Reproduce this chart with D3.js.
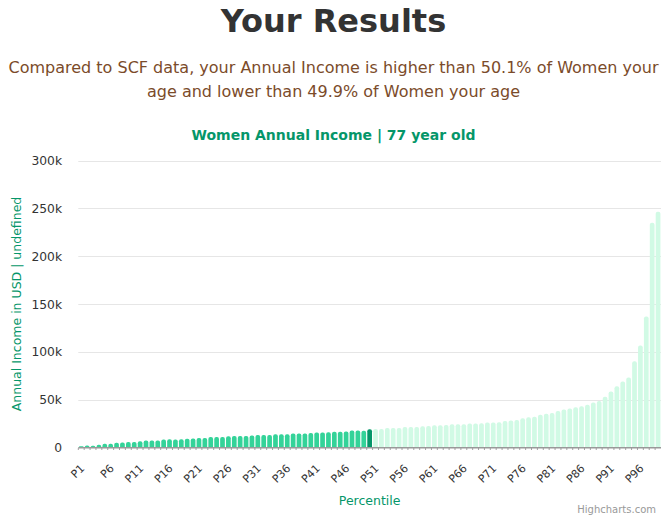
<!DOCTYPE html>
<html>
<head>
<meta charset="utf-8">
<script src="https://cdn.jsdelivr.net/npm/d3@7"></script>
<style>
  body { margin: 0; background: #fff; }
  svg { display: block; font-family: "DejaVu Sans", sans-serif; }
</style>
</head>
<body>
<div id="container"></div>
<script>
var w = 667;
var h = 519;

// percentile labels P1..P99
var percentiles = ["P1","P2","P3","P4","P5","P6","P7","P8","P9","P10",
  "P11","P12","P13","P14","P15","P16","P17","P18","P19","P20",
  "P21","P22","P23","P24","P25","P26","P27","P28","P29","P30",
  "P31","P32","P33","P34","P35","P36","P37","P38","P39","P40",
  "P41","P42","P43","P44","P45","P46","P47","P48","P49","P50",
  "P51","P52","P53","P54","P55","P56","P57","P58","P59","P60",
  "P61","P62","P63","P64","P65","P66","P67","P68","P69","P70",
  "P71","P72","P73","P74","P75","P76","P77","P78","P79","P80",
  "P81","P82","P83","P84","P85","P86","P87","P88","P89","P90",
  "P91","P92","P93","P94","P95","P96","P97","P98","P99"];

// annual income per percentile (USD)
var income = [1000,2000,1700,2800,3800,3800,4800,4900,5600,5600,
  6400,7200,7200,7200,8200,8300,8200,8400,9000,9200,
  9700,9800,10800,10700,10800,11600,11900,11800,11700,12300,
  12900,12900,12800,13600,13700,13600,14400,14500,14400,15000,
  15600,15500,15700,16400,16300,16500,17500,17600,17400,19000,
  19200,19200,20200,20300,20300,21200,21300,21300,22000,22400,
  23000,23200,23300,24000,24000,24200,25000,25000,25200,26000,
  26000,26300,27500,28000,28600,30400,31400,32000,34000,35000,
  36000,38000,39500,40500,42000,43000,44500,47000,48500,53000,
  58500,64000,69000,73000,90000,106500,137000,235000,246500];

var userIndex = 49; // P50 bucket
var yTicks = [0, 50000, 100000, 150000, 200000, 250000, 300000];
var xTickLabels = percentiles.filter(function(d, i) { return i % 5 === 0; });

var titleText = "Your Results";
var subtitleLines = [
  "Compared to SCF data, your Annual Income is higher than 50.1% of Women your",
  "age and lower than 49.9% of Women your age"
];
var chartTitle = "Women Annual Income | 77 year old";
var yAxisTitle = "Annual Income in USD | undefined";
var xAxisTitle = "Percentile";

var plotL = 78.3, plotR = 661, plotT = 160.7, plotB = 447.3;

var svg = d3.select("div#container")
  .append("svg")
  .attr("width", w)
  .attr("height", h)
  .attr("viewBox", "0 0 " + w + " " + h);

var x = d3.scaleBand().domain(percentiles).range([plotL, plotR]).paddingInner(0.2).paddingOuter(0.1);
var y = d3.scaleLinear().domain([0, 300000]).range([plotB, plotT]);

// titles
svg.append("text")
  .attr("x", w / 2).attr("y", 31.5)
  .attr("text-anchor", "middle")
  .style("font-size", "32px").style("font-weight", "bold").style("fill", "#333333")
  .text(titleText);

svg.selectAll("text.sub")
  .data(subtitleLines)
  .enter().append("text")
  .attr("class", "sub")
  .attr("x", w / 2)
  .attr("y", (d, i) => 73 + i * 24)
  .attr("text-anchor", "middle")
  .style("font-size", "16px").style("fill", "#7b4b2a")
  .text(d => d);

svg.append("text")
  .attr("x", w / 2).attr("y", 139.5)
  .attr("text-anchor", "middle")
  .style("font-size", "14px").style("font-weight", "bold").style("fill", "#059669")
  .text(chartTitle);

// grid
svg.append("g")
  .selectAll("line")
  .data(yTicks.slice(1))
  .enter().append("line")
  .attr("x1", plotL).attr("x2", plotR)
  .attr("y1", d => Math.round(y(d)) + 0.5).attr("y2", d => Math.round(y(d)) + 0.5)
  .attr("stroke", "#e6e6e6");

// y labels
svg.append("g")
  .selectAll("text")
  .data(yTicks)
  .enter().append("text")
  .attr("x", 62).attr("y", d => y(d) + 4.5)
  .attr("text-anchor", "end")
  .style("font-size", "12.3px").style("fill", "#333333")
  .text(d => d === 0 ? "0" : (d / 1000) + "k");

// bars with rounded tops
function barPath(x0, y0, bw, y1, r) {
  r = Math.min(r, (y1 - y0), bw / 2);
  return "M" + x0 + "," + y1 +
    "V" + (y0 + r) +
    "Q" + x0 + "," + y0 + " " + (x0 + r) + "," + y0 +
    "H" + (x0 + bw - r) +
    "Q" + (x0 + bw) + "," + y0 + " " + (x0 + bw) + "," + (y0 + r) +
    "V" + y1 + "Z";
}

svg.append("g")
  .selectAll("path")
  .data(income)
  .enter().append("path")
  .attr("d", (d, i) => barPath(x(percentiles[i]), y(d), x.bandwidth(), plotB, 2))
  .attr("fill", (d, i) => i === userIndex ? "#059669" : (i < userIndex ? "#34d399" : "#d1fae5"));

// x axis line and ticks
svg.append("line")
  .attr("x1", plotL).attr("x2", plotR)
  .attr("y1", plotB + 0.5).attr("y2", plotB + 0.5)
  .attr("stroke", "#999999").attr("stroke-width", 1.5);

var step = x.step();
svg.append("g")
  .selectAll("line")
  .data(percentiles)
  .enter().append("line")
  .attr("x1", d => x(d) - (step - x.bandwidth()) / 2)
  .attr("x2", d => x(d) - (step - x.bandwidth()) / 2)
  .attr("y1", plotB + 1).attr("y2", plotB + 2.5)
  .attr("stroke", "#8a8a8a");

// x labels rotated
svg.append("g")
  .selectAll("text")
  .data(xTickLabels)
  .enter().append("text")
  .attr("transform", d => "translate(" + (x(d) + x.bandwidth() / 2 + 4) + "," + 469 + ") rotate(-45)")
  .attr("text-anchor", "end")
  .style("font-size", "11px").style("fill", "#333333")
  .text(d => d);

// axis titles
svg.append("text")
  .attr("x", (plotL + plotR) / 2).attr("y", 505)
  .attr("text-anchor", "middle")
  .style("font-size", "12.5px").style("fill", "#059669")
  .text(xAxisTitle);

svg.append("text")
  .attr("transform", "translate(21,304) rotate(-90)")
  .attr("text-anchor", "middle")
  .style("font-size", "12.5px").style("fill", "#059669")
  .text(yAxisTitle);

// credits
svg.append("text")
  .attr("x", 656).attr("y", 513)
  .attr("text-anchor", "end")
  .style("font-size", "10px").style("fill", "#999999")
  .text("Highcharts.com");
</script>
</body>
</html>
